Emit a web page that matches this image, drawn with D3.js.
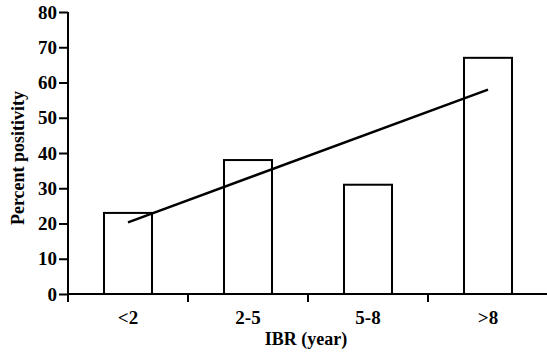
<!DOCTYPE html>
<html>
<head>
<meta charset="utf-8">
<script src="https://cdn.jsdelivr.net/npm/d3@7"></script>
<style>
  body { margin: 0; background: #fff; }
  svg text { font-family: "Liberation Serif", "Times New Roman", serif; font-weight: bold; fill: #000; }
</style>
</head>
<body>
<svg width="547" height="352"></svg>
<script>
// chart data
var categories = ["<2", "2-5", "5-8", ">8"];
var values = [23, 38, 31, 67];
var yTicks = [0, 10, 20, 30, 40, 50, 60, 70, 80];
// fitted trend line, from first to last category
var trendCategories = ["<2", ">8"];
var trendValues = [20.3, 58];

var svg = d3.select("svg");
var margin = {top: 12, right: -1, bottom: 58, left: 68};
var width = 547 - margin.left - margin.right;
var height = 352 - margin.top - margin.bottom;

var x = d3.scaleBand().domain(categories).range([0, width]).paddingInner(0.6).paddingOuter(0.3),
    y = d3.scaleLinear().domain([0, 80]).range([height, 0]);

var g = svg.append("g")
    .attr("transform", "translate(" + margin.left + "," + margin.top + ")");

// bars
g.selectAll(".bar")
    .data(values)
    .enter().append("rect")
    .attr("class", "bar")
    .attr("x", function(d, i) { return x(categories[i]); })
    .attr("y", function(d) { return y(d); })
    .attr("width", x.bandwidth())
    .attr("height", function(d) { return height - y(d); })
    .attr("fill", "none")
    .attr("stroke", "#000")
    .attr("stroke-width", 2);

// trend line
var line = d3.line()
    .x(function(d, i) { return x(trendCategories[i]) + x.bandwidth() / 2; })
    .y(function(d) { return y(d); });

g.append("path")
    .datum(trendValues)
    .attr("d", line)
    .attr("fill", "none")
    .attr("stroke", "#000")
    .attr("stroke-width", 2.5);

// x axis: ticks sit between the categories
var step = x.step();
var xAxis = g.append("g")
    .attr("transform", "translate(0," + height + ")");

xAxis.append("line")
    .attr("x1", 0).attr("x2", width)
    .attr("stroke", "#000").attr("stroke-width", 2);

xAxis.selectAll(".xtick")
    .data(categories)
    .enter().append("line")
    .attr("class", "xtick")
    .attr("x1", function(d, i) { return i * step; })
    .attr("x2", function(d, i) { return i * step; })
    .attr("y1", 0).attr("y2", 8)
    .attr("stroke", "#000").attr("stroke-width", 2);

xAxis.selectAll(".xlabel")
    .data(categories)
    .enter().append("text")
    .attr("class", "xlabel")
    .attr("x", function(d) { return x(d) + x.bandwidth() / 2; })
    .attr("y", 30)
    .attr("text-anchor", "middle")
    .style("font-size", "19px")
    .text(function(d) { return d; });

// y axis
var yAxis = g.append("g")
    .call(d3.axisLeft(y).tickValues(yTicks).tickSize(9).tickPadding(2).tickSizeOuter(0));

yAxis.select(".domain").remove();
yAxis.append("line")
    .attr("y1", 0).attr("y2", height + 8)
    .attr("stroke", "#000").attr("stroke-width", 2);
yAxis.selectAll(".tick line").attr("stroke", "#000").attr("stroke-width", 2);
yAxis.selectAll(".tick text")
    .style("font-size", "19px")
    .attr("fill", "#000");

// y label
svg.append("text")
    .attr("transform", "rotate(-90)")
    .attr("x", -158)
    .attr("y", 24)
    .attr("text-anchor", "middle")
    .style("font-size", "18px")
    .text("Percent positivity");

// x label
svg.append("text")
    .attr("x", 306)
    .attr("y", 345)
    .attr("text-anchor", "middle")
    .style("font-size", "18px")
    .text("IBR (year)");
</script>
</body>
</html>
